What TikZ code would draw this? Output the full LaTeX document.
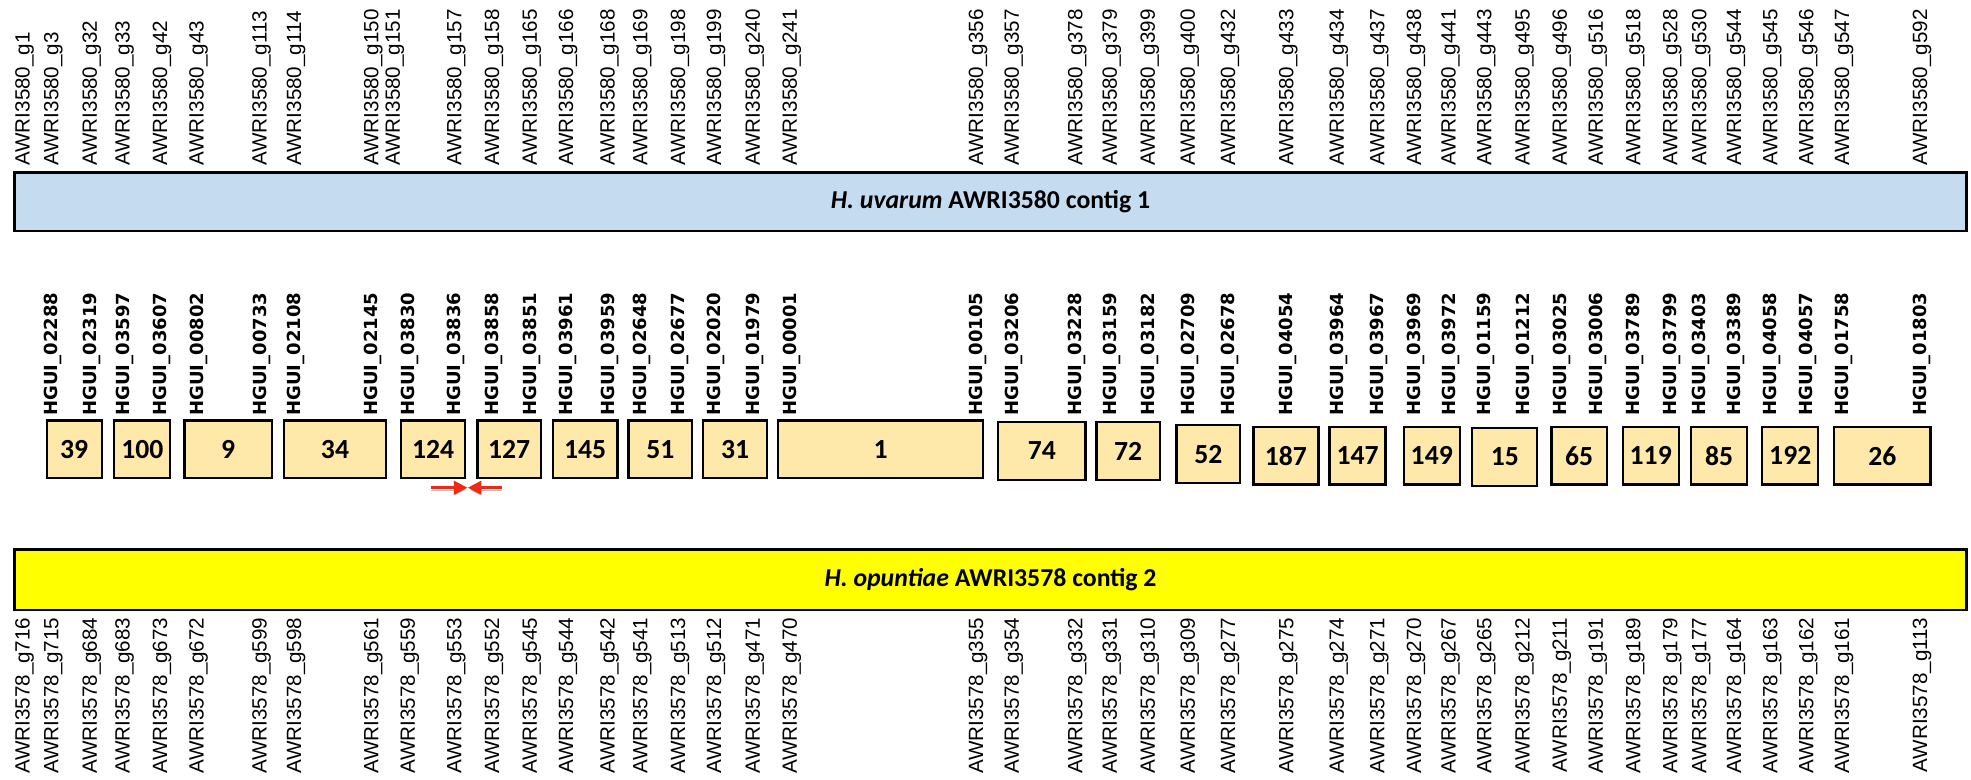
\documentclass[tikz,border=0pt]{standalone}
\usepackage{fontspec}
\setmainfont{Liberation Sans}
\newfontfamily\calfont{Carlito}
\newfontfamily\vfont{DejaVu Sans}
\usetikzlibrary{arrows.meta, shadows}
\definecolor{uvblue}{RGB}{197,219,240}
\definecolor{opyellow}{RGB}{255,255,0}
\definecolor{genefill}{RGB}{255,233,170}
\definecolor{arrowred}{RGB}{238,42,22}
\tikzset{contig/.style={rectangle,draw,line width=1.3pt,minimum width=932pt,drop shadow={shadow xshift=0.6pt,shadow yshift=-0.6pt,fill=black!40},font=\calfont\bfseries\fontsize{12.3}{14}\selectfont},block/.style={rectangle,draw,line width=1.1pt,fill=genefill,minimum height=27.6pt,font=\calfont\bfseries\fontsize{13.2}{15}\selectfont},uvgene/.style={rotate=90,anchor=west,inner sep=0pt,font=\fontsize{9.84}{11}\selectfont},opgene/.style={rotate=90,anchor=east,inner sep=0pt,font=\fontsize{9.84}{11}\selectfont},hgui/.style={rotate=90,anchor=west,inner sep=0pt,font=\vfont\bfseries\fontsize{8.6}{10}\selectfont},squeeze/.style={-{Triangle[length=6.6pt,width=6.4pt]},line width=1.5pt,draw=arrowred,fill=arrowred,preaction={draw=black!25,fill=black!25,transform canvas={yshift=-1.1pt}}}}

\begin{document}
\begin{tikzpicture}[x=0.6pt,y=-0.6pt]
\useasboundingbox (0,0) rectangle (1568,620);
\node[contig,fill=uvblue,minimum height=27.8pt] (uv) at (788,160.6) {\textit{H. uvarum} AWRI3580 contig 1};
\node[contig,fill=opyellow,minimum height=28.9pt] (op) at (788,461.2) {\textit{H. opuntiae} AWRI3578 contig 2};
\foreach \x/\g in {19.5/1,42.5/3,73/32,99/33,129/42,158/43,208/113,235.5/114,297/150,314/151,363/157,393/158,423/165,452/166,485/168,511/169,541/198,569.6/199,600.5/240,630/241,778/356,806.5/357,857/378,884.5/379,914.7/399,946.6/400,978.6/432,1024.8/433,1065/434,1097.2/437,1126.5/438,1154/441,1182.3/443,1212.9/495,1242.5/496,1271/516,1301/518,1330.4/528,1353.5/530,1381/544,1410/545,1438.5/546,1467/547,1529/592}
  \node[uvgene] (uv-\g) at (\x,132) {AWRI3580\_g\g};
\foreach \x/\h in {42.5/02288,73/02319,99/03597,129/03607,158/00802,208/00733,235.5/02108,297/02145,326/03830,363/03836,393/03858,423/03851,452/03961,485/03959,511/02648,541/02677,569.6/02020,600.5/01979,630/00001,778/00105,806.5/03206,857/03228,884.5/03159,914.7/03182,946.6/02709,978.6/02678,1024.8/04054,1065/03964,1097.2/03967,1126.5/03969,1154/03972,1182.3/01159,1212.9/01212,1242.5/03025,1271/03006,1301/03789,1330.4/03799,1353.5/03403,1381/03389,1410/04058,1438.5/04057,1467/01758,1529/01803}
  \node[hgui] (hg-\h) at (\x,331) {HGUI\_\h};
\foreach \x/\w/\y/\n in {59/45.4/357.5/39,113.2/45.7/357.5/100,181.5/71/357.5/9,266.5/83/357.5/34,344.5/53/357.5/124,405/52/357.5/127,465.5/53/357.5/145,525.3/52.5/357.5/51,584.9/52.6/357.5/31,700.5/165/357.5/1,828.8/71/358.8/74,897.5/52.2/358.8/72,961.3/52.5/361.2/52,1023/53.3/362.5/187,1080/46/362.5/147,1139/46/362.5/149,1197.1/53.4/363.5/15,1256.3/46/362.5/65,1313.2/45.9/362.5/119,1367.6/46/362.5/85,1424.2/45.9/362.5/192,1497.5/78.3/362.5/26}
  \node[block,minimum width=\w*0.6pt-1pt] (b-\n) at (\x,\y) {\n};
\foreach \x/\g in {19.5/716,42.5/715,73/684,99/683,129/673,158/672,208/599,235.5/598,297/561,326/559,363/553,393/552,423/545,452/544,485/542,511/541,541/513,569.6/512,600.5/471,630/470,778/355,806.5/354,857/332,884.5/331,914.7/310,946.6/309,978.6/277,1024.8/275,1065/274,1097.2/271,1126.5/270,1154/267,1182.3/265,1212.9/212,1242.5/211,1271/191,1301/189,1330.4/179,1353.5/177,1381/164,1410/163,1438.5/162,1467/161,1529/113}
  \node[opgene] (op-\g) at (\x,491) {AWRI3578\_g\g};
\coordinate (meet) at (372,388);
\coordinate (from-l) at (343,388);
\coordinate (from-r) at (399.5,388);
\draw[squeeze] (from-l) -- (meet);
\draw[squeeze] (from-r) -- (meet);
\end{tikzpicture}
\end{document}
